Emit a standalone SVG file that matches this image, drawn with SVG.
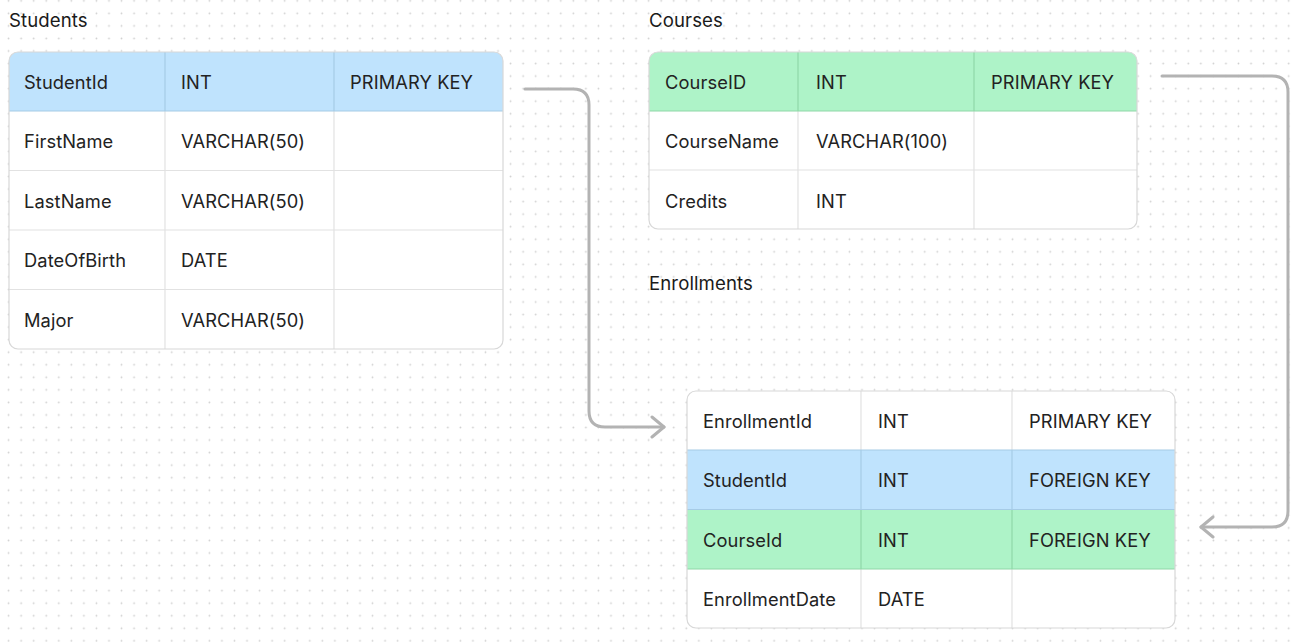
<svg xmlns="http://www.w3.org/2000/svg" width="1299" height="642" viewBox="0 0 1299 642">
<defs>
<pattern id="dots" patternUnits="userSpaceOnUse" x="2.325" y="-5.475" width="12.55" height="12.55">
<circle cx="6.275" cy="6.275" r="0.9" fill="#cfcfcf"/>
</pattern>
<clipPath id="cS"><rect x="9" y="52" width="494" height="297" rx="9"/></clipPath>
<clipPath id="cC"><rect x="649" y="52" width="488" height="177" rx="9"/></clipPath>
<clipPath id="cE"><rect x="687" y="391" width="488" height="237" rx="9"/></clipPath>
<marker id="arr" markerUnits="userSpaceOnUse" markerWidth="20" markerHeight="24" refX="15" refY="12" orient="auto">
<path d="M3,2 L15,12 L3,22" fill="none" stroke="#b3b3b3" stroke-width="3" stroke-linecap="round" stroke-linejoin="round"/>
</marker>
<style>
text{font-family:Inter,"Noto Sans","Liberation Sans",sans-serif;font-size:18.3px;fill:#222;letter-spacing:0.1px}
.title{font-size:18.6px;fill:#1a1a1a}
.frame{fill:none;stroke:#d8d8d8;stroke-width:1.2}
.grid{stroke:#e2e2e2;stroke-width:1.2}
.blue{fill:#bfe3fd}
.green{fill:#aef3c8}
.bline{stroke:#a6cbe6;stroke-width:1.2}
.gline{stroke:#8fd8a8;stroke-width:1.2}
.conn{fill:none;stroke:#b3b3b3;stroke-width:3;stroke-linecap:round}
</style>
</defs>
<rect width="1299" height="642" fill="#ffffff"/>
<rect width="1299" height="642" fill="url(#dots)"/>

<g id="students">
<text class="title" x="9" y="26.5">Students</text>
<g clip-path="url(#cS)">
<rect x="9" y="52" width="494" height="297" fill="#fff"/>
<rect class="blue" x="9" y="52" width="494" height="59"/>
<line class="grid" x1="9" y1="170.5" x2="503" y2="170.5"/>
<line class="grid" x1="9" y1="230" x2="503" y2="230"/>
<line class="grid" x1="9" y1="289.5" x2="503" y2="289.5"/>
<line class="grid" x1="165" y1="111" x2="165" y2="349"/>
<line class="grid" x1="334" y1="111" x2="334" y2="349"/>
<line class="bline" x1="165" y1="52" x2="165" y2="111"/>
<line class="bline" x1="334" y1="52" x2="334" y2="111"/>
<line class="bline" x1="9" y1="111" x2="503" y2="111"/>
</g>
<rect class="frame" x="9" y="52" width="494" height="297" rx="9"/>
<text x="24" y="88.5">StudentId</text><text x="181" y="88.5">INT</text><text x="350" y="88.5">PRIMARY KEY</text>
<text x="24" y="148">FirstName</text><text x="181" y="148">VARCHAR(50)</text>
<text x="24" y="207.5">LastName</text><text x="181" y="207.5">VARCHAR(50)</text>
<text x="24" y="267">DateOfBirth</text><text x="181" y="267">DATE</text>
<text x="24" y="326.5">Major</text><text x="181" y="326.5">VARCHAR(50)</text>
</g>

<g id="courses">
<text class="title" x="649" y="26.5">Courses</text>
<g clip-path="url(#cC)">
<rect x="649" y="52" width="488" height="177" fill="#fff"/>
<rect class="green" x="649" y="52" width="488" height="59"/>
<line class="grid" x1="649" y1="170" x2="1137" y2="170"/>
<line class="grid" x1="798" y1="111" x2="798" y2="229"/>
<line class="grid" x1="974" y1="111" x2="974" y2="229"/>
<line class="gline" x1="798" y1="52" x2="798" y2="111"/>
<line class="gline" x1="974" y1="52" x2="974" y2="111"/>
<line class="gline" x1="649" y1="111" x2="1137" y2="111"/>
</g>
<rect class="frame" x="649" y="52" width="488" height="177" rx="9"/>
<text x="665" y="88.5">CourseID</text><text x="816" y="88.5">INT</text><text x="991" y="88.5">PRIMARY KEY</text>
<text x="665" y="148">CourseName</text><text x="816" y="148">VARCHAR(100)</text>
<text x="665" y="207.5">Credits</text><text x="816" y="207.5">INT</text>
</g>

<g id="enrollments">
<text class="title" x="649" y="290">Enrollments</text>
<g clip-path="url(#cE)">
<rect x="687" y="391" width="488" height="237" fill="#fff"/>
<rect class="blue" x="687" y="450" width="488" height="59.5"/>
<rect class="green" x="687" y="509.5" width="488" height="59.5"/>
<line class="grid" x1="861" y1="391" x2="861" y2="450"/>
<line class="grid" x1="1012" y1="391" x2="1012" y2="450"/>
<line class="grid" x1="861" y1="569" x2="861" y2="628"/>
<line class="grid" x1="1012" y1="569" x2="1012" y2="628"/>
<line class="bline" x1="861" y1="450" x2="861" y2="509.5"/>
<line class="bline" x1="1012" y1="450" x2="1012" y2="509.5"/>
<line class="gline" x1="861" y1="509.5" x2="861" y2="569"/>
<line class="gline" x1="1012" y1="509.5" x2="1012" y2="569"/>
<line class="bline" x1="687" y1="450" x2="1175" y2="450"/>
<line class="bline" x1="687" y1="509.5" x2="1175" y2="509.5"/>
<line class="gline" x1="687" y1="569" x2="1175" y2="569"/>
</g>
<rect class="frame" x="687" y="391" width="488" height="237" rx="9"/>
<text x="703" y="427.5">EnrollmentId</text><text x="878" y="427.5">INT</text><text x="1029" y="427.5">PRIMARY KEY</text>
<text x="703" y="487">StudentId</text><text x="878" y="487">INT</text><text x="1029" y="487">FOREIGN KEY</text>
<text x="703" y="546.5">CourseId</text><text x="878" y="546.5">INT</text><text x="1029" y="546.5">FOREIGN KEY</text>
<text x="703" y="606">EnrollmentDate</text><text x="878" y="606">DATE</text>
</g>

<g id="connectors">
<path class="conn" d="M525,89 H573 Q589,89 589,105 V411 Q589,427 605,427 H664" marker-end="url(#arr)"/>
<path class="conn" d="M1162,76 H1272 Q1288,76 1288,92 V511 Q1288,527 1272,527 H1201" marker-end="url(#arr)"/>
</g>
</svg>
